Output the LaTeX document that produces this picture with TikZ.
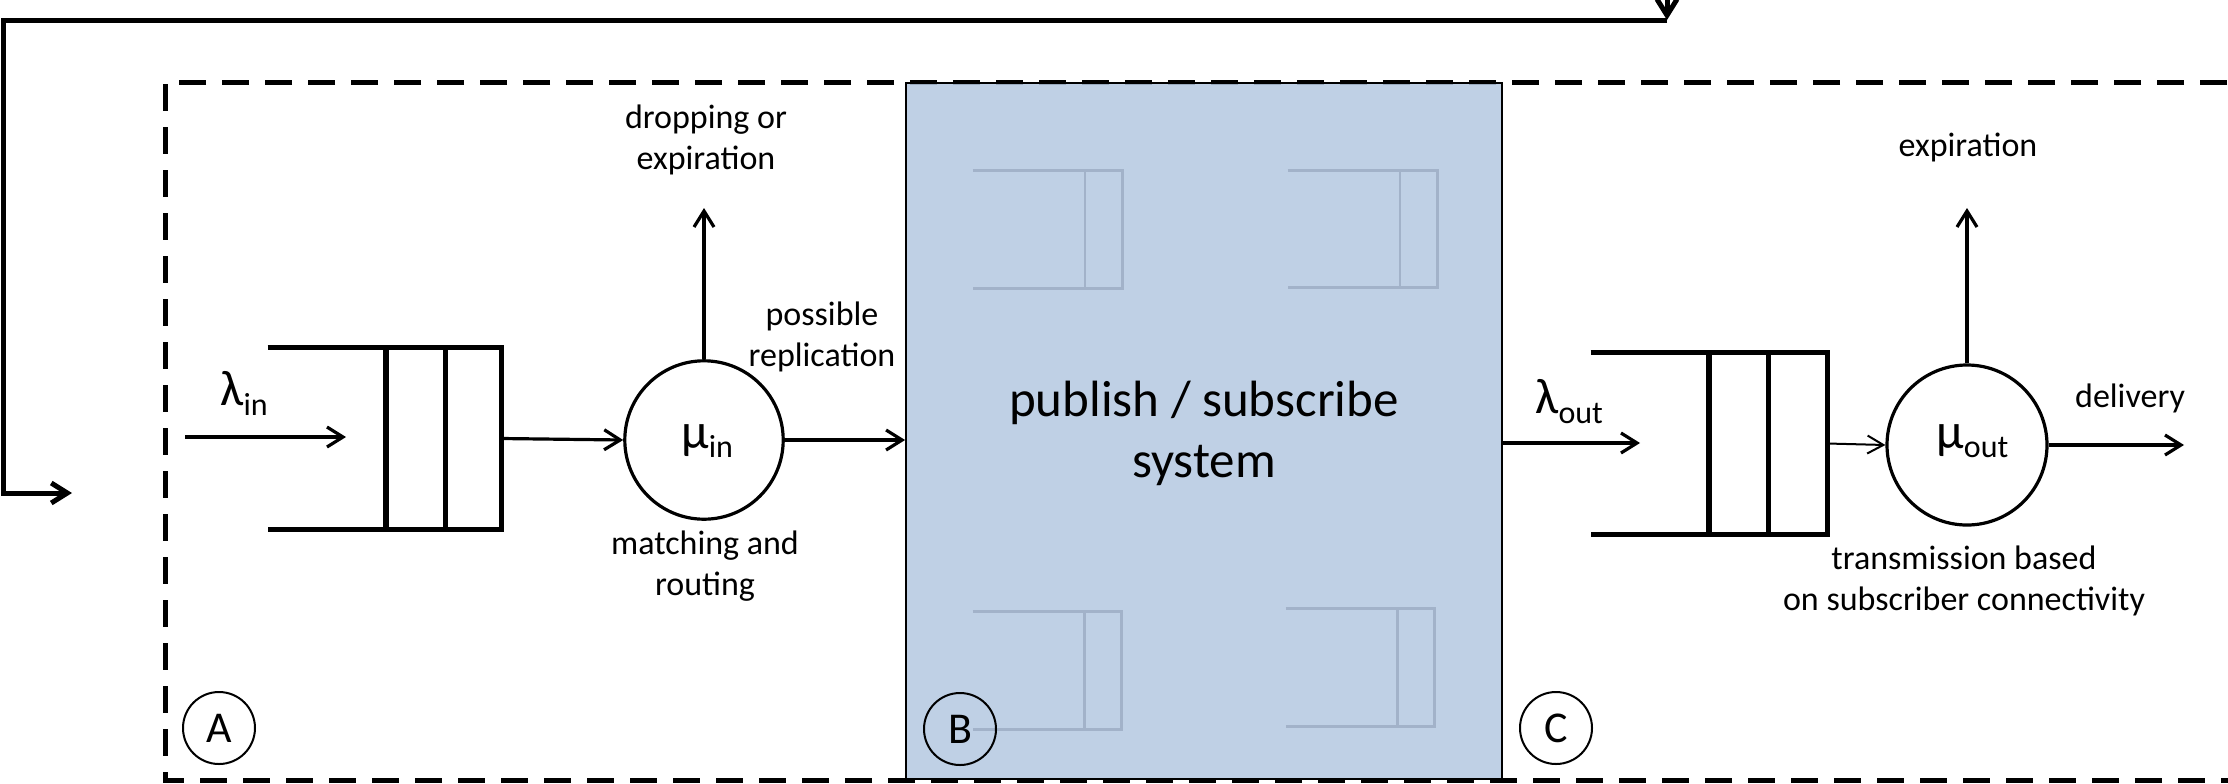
\documentclass[tikz,border=0pt]{standalone}
\usepackage{fontspec}
\setmainfont{Carlito}
\usetikzlibrary{arrows.meta,calc}
\definecolor{psblue}{HTML}{B4C8E1}
\definecolor{psline}{HTML}{A2B2C9}
\newcommand\symsub[3]{{\fontsize{25}{30}\selectfont #1}\raisebox{#3}{\fontsize{16}{19}\selectfont #2}}
\newcommand\qlines[3]{%
  \draw[#2] (#1.north west) -- (#1.north east) -- (#1.south east) -- (#1.south west);
  \foreach \f in {#3} {\draw[#2] ($(#1.north west)!\f!(#1.north east)$) -- ($(#1.south west)!\f!(#1.south east)$);}%
}
\begin{document}
\begin{tikzpicture}[x=0.5pt,y=-0.5pt,
  arr/.style={line width=1.6pt,-{Straight Barb[length=8pt,width=10pt]}},
  thinarr/.style={line width=1pt,-{Straight Barb[length=8pt,width=9pt]}},
  fb/.style={line width=2.5pt},
  fbarr/.style={line width=2.5pt,-{Straight Barb[length=8pt,width=10pt]}},
  frame/.style={line width=2.5pt,dash pattern=on 13.5pt off 8pt},
  sysbox/.style={draw=black,line width=0.9pt,fill=psblue,fill opacity=0.85,draw opacity=1,inner sep=0},
  qbox/.style={inner sep=0,draw=none},
  qline/.style={line width=2.6pt},
  fqline/.style={line width=1.4pt,draw=psline},
  server/.style={circle,draw,line width=1.6pt,inner sep=0},
  tag/.style={circle,draw,line width=1pt,inner sep=0,minimum size=36pt,font=\fontsize{22}{26}\selectfont},
  lbl/.style={inner sep=0,align=center,font=\fontsize{17}{20.4}\selectfont},
  sym/.style={inner sep=0,anchor=base west}
]
\useasboundingbox (0,0) rectangle (2228,783);
\clip (0,0) rectangle (2228,783);

% dashed frame
\draw[frame] (2270,82) -- (165,82) -- (165,780) -- (2270,780);

% publish/subscribe system box
\node[sysbox,minimum width=298pt,minimum height=348pt] (sys) at (1204,431) {};
\node[qbox,minimum width=74.5pt,minimum height=58.5pt] (fq1) at (1047.5,229.5) {};
\node[qbox,minimum width=74.5pt,minimum height=58pt] (fq2) at (1362.5,229) {};
\node[qbox,minimum width=74pt,minimum height=58.5pt] (fq3) at (1047,670.5) {};
\node[qbox,minimum width=74pt,minimum height=58.5pt] (fq4) at (1360,667.5) {};
\qlines{fq1}{fqline}{0.75}
\qlines{fq2}{fqline}{0.75}
\qlines{fq3}{fqline}{0.75}
\qlines{fq4}{fqline}{0.75}
\node[inner sep=0,align=center,font=\fontsize{25.5}{30.6}\selectfont] (systxt) at (1204,433) {publish / subscribe\\system};

% feedback loop
\coordinate (fbtop) at (1667,-40);
\coordinate (fbcorner) at (1667,20);
\coordinate (fbleft) at (3.5,20);
\coordinate (fbbottom) at (3.5,493);
\coordinate (fbend) at (72,493);
\draw[fbarr] (fbtop) -- (fbcorner);
\draw[fbarr] (fbcorner) -- (fbleft) -- (fbbottom) -- (fbend);

% input side
\node[qbox,minimum width=116.5pt,minimum height=90.5pt] (qin) at (384.5,438.5) {};
\qlines{qin}{qline}{0.506,0.760}
\coordinate (linstart) at (185,437);
\coordinate (linend) at (346,437);
\draw[arr] (linstart) -- (linend);
\node[sym] (lin) at (220,405) {\symsub{λ}{in}{-5pt}};
\node[server,minimum size=79.2pt] (muin) at (704,440) {};
\node[sym] (muinlbl) at (681,448) {\symsub{μ}{in}{-4.5pt}};
\draw[arr] (qin.east) -- (muin.west);
\coordinate (dropend) at (704,208);
\draw[arr] (muin.north) -- (dropend);
\draw[arr] (muin.east) -- (muin.east -| sys.west);
\node[lbl] (droptxt) at (706,140) {dropping or\\expiration};
\node[lbl] (repltxt) at (822,337) {possible\\replication};
\node[lbl] (matchtxt) at (705,566) {matching and\\routing};

% output side
\coordinate (loutend) at (1640,443);
\draw[arr] (sys.east |- loutend) -- (loutend);
\node[sym] (lout) at (1535,413) {\symsub{λ}{out}{-5pt}};
\node[qbox,minimum width=118pt,minimum height=90.5pt] (qout) at (1709,443.5) {};
\qlines{qout}{qline}{0.5,0.75}
\node[server,minimum size=80pt] (muout) at (1967,445) {};
\node[sym] (muoutlbl) at (1936,448) {\symsub{μ}{out}{-4.5pt}};
\draw[thinarr] (qout.east) -- (muout.west);
\coordinate (expend) at (1967,208);
\draw[arr] (muout.north) -- (expend);
\coordinate (delivend) at (2184,445);
\draw[arr] (muout.east) -- (delivend);
\node[lbl,anchor=base] (exptxt) at (1968,156) {expiration};
\node[lbl,anchor=base] (delivtxt) at (2130,407) {delivery};
\node[lbl] (transtxt) at (1964,581) {transmission based\\on subscriber connectivity};

% region tags
\node[tag] (tA) at (219,728) {A};
\node[tag] (tB) at (960,729) {B};
\node[tag] (tC) at (1556,728) {C};
\end{tikzpicture}
\end{document}
